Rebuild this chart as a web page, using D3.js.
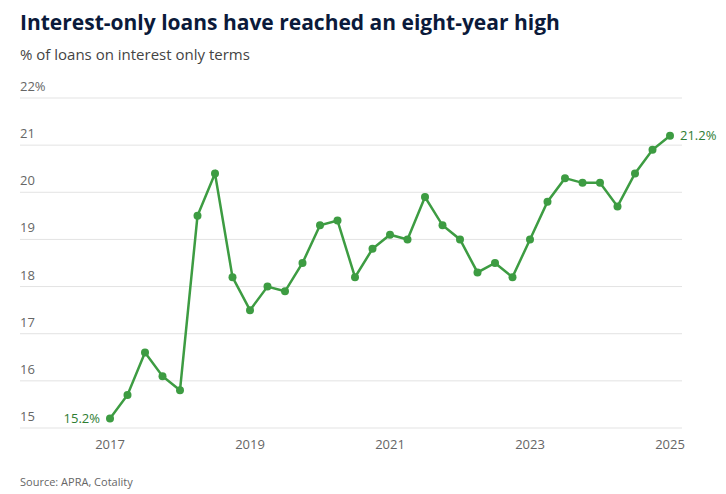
<!DOCTYPE html>
<html><head><meta charset="utf-8">
<script src="https://cdn.jsdelivr.net/npm/d3@7"></script>
<style>body{margin:0;background:#fff;font-family:"Open Sans",sans-serif}</style>
</head><body><div id="chart"></div>
<script>
var values = [15.2,15.7,16.6,16.1,15.8,19.5,20.4,18.2,17.5,18.0,17.9,18.5,19.3,19.4,18.2,18.8,19.1,19.0,19.9,19.3,19.0,18.3,18.5,18.2,19.0,19.8,20.3,20.2,20.2,19.7,20.4,20.9,21.2];
var startYear = 2017;
var yTicks = [15,16,17,18,19,20,21,22];
var xTicks = [2017,2019,2021,2023,2025];

var width = 726, height = 494, green = "#3d9c42";
var svg = d3.select("#chart").append("svg").attr("width", width).attr("height", height);

var x = d3.scaleLinear().domain([2017, 2025]).range([110, 670]);
var y = d3.scaleLinear().domain([15, 22]).range([428, 98]);

svg.append("text").attr("x", 20).attr("y", 30).attr("font-size", 21).attr("font-weight", "bold")
    .attr("fill", "#0b1a3a").text("Interest-only loans have reached an eight-year high");
svg.append("text").attr("x", 20).attr("y", 60).attr("font-size", 15).attr("fill", "#444")
    .text("% of loans on interest only terms");

var grid = svg.append("g");
yTicks.forEach(function (t) {
    grid.append("line").attr("x1", 20).attr("x2", 682).attr("y1", y(t)).attr("y2", y(t))
        .attr("stroke", "#e3e3e3").attr("stroke-width", 1);
    grid.append("text").attr("x", 20).attr("y", y(t) - 7).attr("font-size", 13).attr("fill", "#666")
        .text(t === 22 ? t + "%" : t);
});

xTicks.forEach(function (t) {
    svg.append("text").attr("x", x(t)).attr("y", 449).attr("text-anchor", "middle")
        .attr("font-size", 13).attr("fill", "#666").text(t);
});

var line = d3.line().x(function (d, i) { return x(startYear + i / 4); }).y(function (d) { return y(d); });
svg.append("path").datum(values).attr("d", line).attr("fill", "none").attr("stroke", green).attr("stroke-width", 2.5);
svg.selectAll("circle.pt").data(values).enter().append("circle")
    .attr("cx", function (d, i) { return x(startYear + i / 4); })
    .attr("cy", function (d) { return y(d); }).attr("r", 4).attr("fill", green);

svg.append("text").attr("x", x(2017) - 10).attr("y", y(15.2) + 4).attr("text-anchor", "end")
    .attr("font-size", 13).attr("fill", "#2e7d32").text("15.2%");
svg.append("text").attr("x", x(2025) + 10).attr("y", y(21.2) + 4)
    .attr("font-size", 13).attr("fill", "#2e7d32").text("21.2%");

svg.append("text").attr("x", 20).attr("y", 486).attr("font-size", 11).attr("fill", "#666").text("Source: APRA, Cotality");
</script></body></html>
